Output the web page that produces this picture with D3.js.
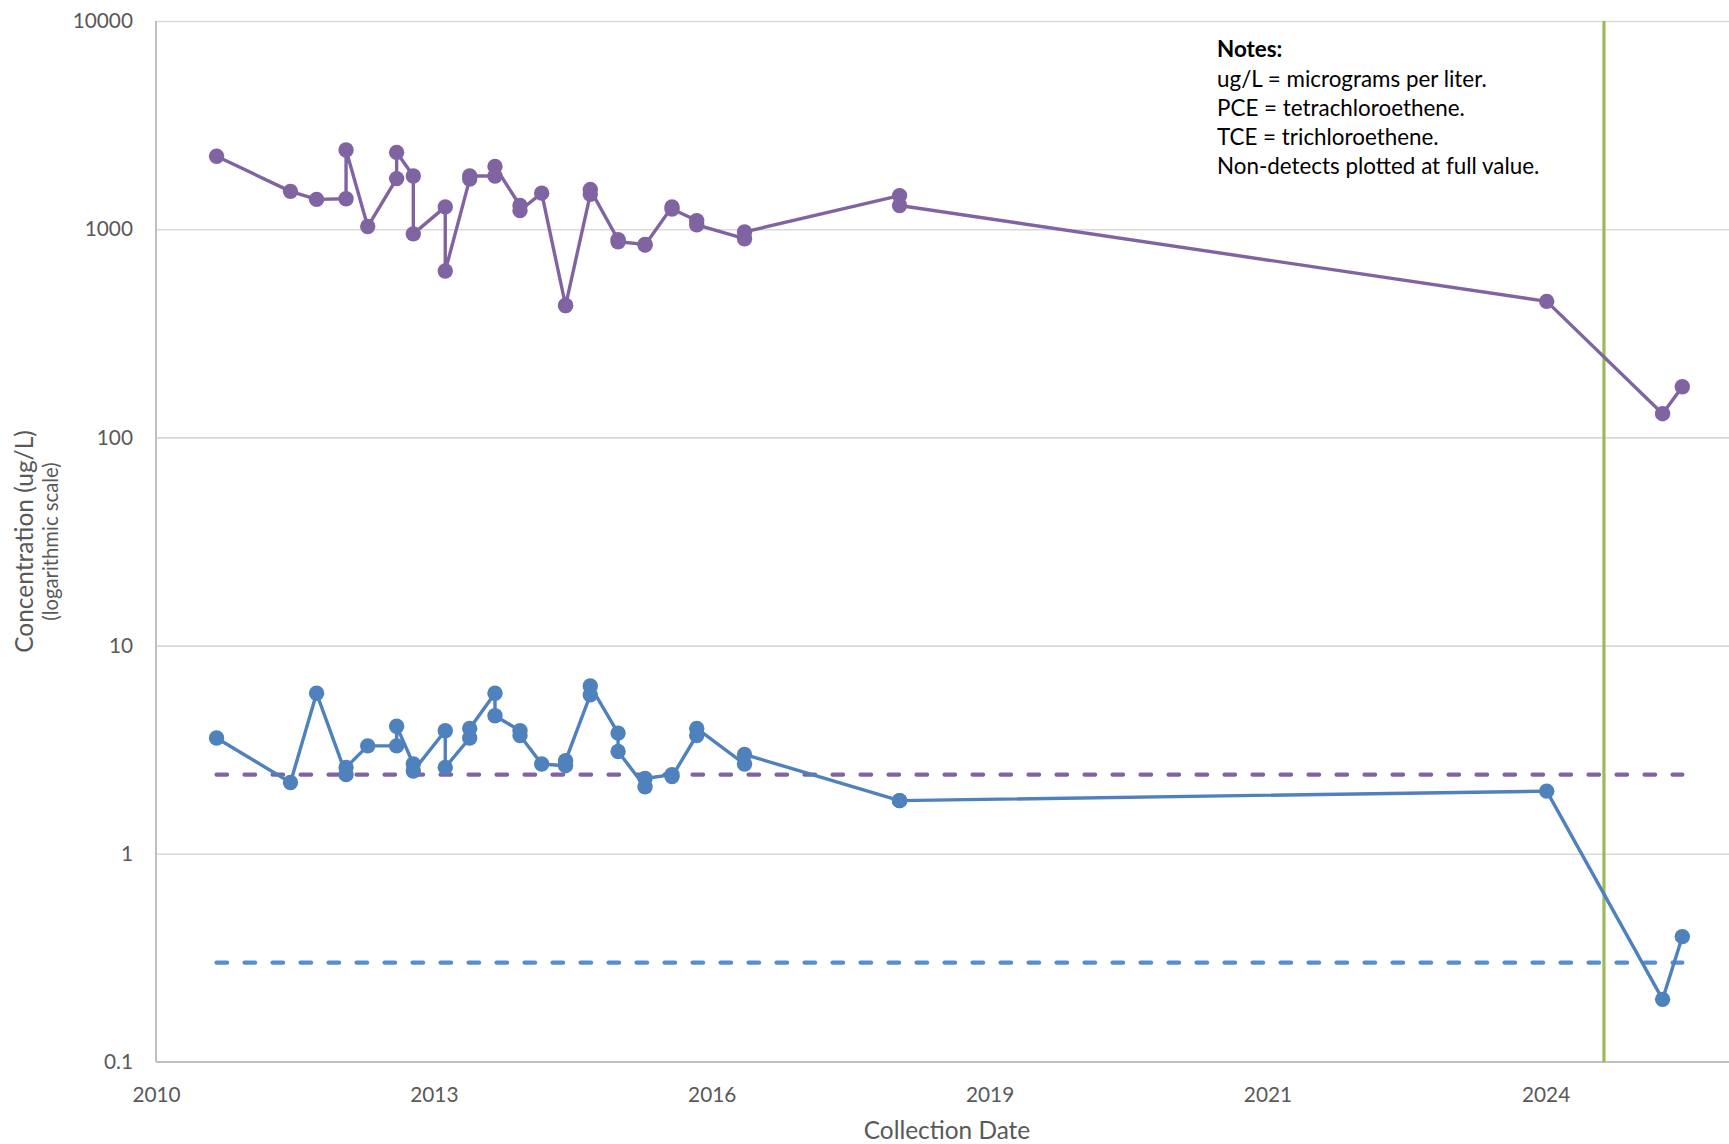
<!DOCTYPE html>
<html>
<head>
<meta charset="utf-8">
<script src="https://cdn.jsdelivr.net/npm/d3@7"></script>
<style>
  html, body { margin: 0; padding: 0; background: #fff; }
  svg { display: block; font-family: Lato, "Open Sans", sans-serif; }
</style>
</head>
<body>
<svg id="chart" width="1729" height="1144"></svg>
<script>
// Sampling events (duplicate samples share a date)
const sampleDates = [
  "2011-06-24", "2012-03-16", "2012-06-18", "2012-10-02", "2012-10-02",
  "2012-12-19", "2013-04-02", "2013-04-02", "2013-06-01", "2013-06-01",
  "2013-09-24", "2013-09-24", "2013-12-21", "2013-12-21", "2014-03-22",
  "2014-03-22", "2014-06-20", "2014-06-20", "2014-09-06", "2014-12-01",
  "2014-12-01", "2015-02-28", "2015-02-28", "2015-06-08", "2015-06-08",
  "2015-09-13", "2015-09-13", "2015-12-19", "2015-12-19", "2016-03-17",
  "2016-03-17", "2016-09-05", "2016-09-05", "2018-03-17", "2018-03-17",
  "2024-08-01", "2025-09-22", "2025-12-02"
];

// PCE concentrations (ug/L)
const pceValues = [
  2240, 1520, 1390, 1400, 2400,
  1030, 1750, 2340, 1800, 950,
  1280, 630, 1740, 1800, 1800,
  2000, 1300, 1230, 1490, 430,
  430, 1470, 1550, 890, 870,
  845, 840, 1280, 1250, 1100,
  1050, 900, 970, 1450, 1300,
  450, 130, 175
];

// TCE concentrations (ug/L)
const tceValues = [
  3.6, 2.2, 5.9, 2.4, 2.6,
  3.3, 3.3, 4.1, 2.7, 2.5,
  3.9, 2.6, 3.6, 4.0, 5.9,
  4.6, 3.9, 3.7, 2.7, 2.65,
  2.8, 5.8, 6.4, 3.8, 3.1,
  2.1, 2.3, 2.4, 2.35, 3.7,
  4.0, 2.7, 3.0, 1.8, 1.8,
  2.0, 0.2, 0.4
];

// Horizontal reference levels (ug/L)
const pceReferenceLevel = 2.4;
const tceReferenceLevel = 0.3;

// Vertical milestone line
const milestoneDate = "2025-02-23";

// Axis ticks
const yTickValues = [0.1, 1, 10, 100, 1000, 10000];
const xTickDates = ["2010-11-18", "2013-08-14", "2016-05-10", "2019-02-04", "2021-10-31", "2024-07-28"];
const xDomainDates = ["2010-11-18", "2026-05-19"];

// Notes block
const notesTitle = "Notes:";
const notesLines = [
  "ug/L = micrograms per liter.",
  "PCE = tetrachloroethene.",
  "TCE = trichloroethene.",
  "Non-detects plotted at full value."
];

const colors = {
  pce: "#8064A2",
  tce: "#4F81BD",
  pceRef: "#8064A2",
  tceRef: "#558ED5",
  milestone: "#9BBB59",
  grid: "#D9D9D9",
  axis: "#BFBFBF",
  label: "#595959"
};

const svg = d3.select("#chart");
const plot = { left: 156, top: 21, right: 1729, bottom: 1062 };
const parse = d3.utcParse("%Y-%m-%d");

const x = d3.scaleUtc()
  .domain(xDomainDates.map(parse))
  .range([plot.left, plot.right]);

const y = d3.scaleLog()
  .domain([0.1, 10000])
  .range([plot.bottom, plot.top]);

const records = sampleDates.map((d, i) => ({
  date: parse(d), pce: pceValues[i], tce: tceValues[i]
}));

// Horizontal gridlines
const grid = svg.append("g")
  .attr("transform", `translate(${plot.left},0)`)
  .call(d3.axisLeft(y)
    .tickValues(yTickValues.filter(v => v > 0.1))
    .tickSize(-(plot.right - plot.left))
    .tickFormat(""));
grid.select(".domain").remove();
grid.selectAll(".tick line").attr("stroke", colors.grid).attr("stroke-width", 1.6);

// Y axis labels
const yAxis = svg.append("g")
  .attr("transform", `translate(${plot.left},0)`)
  .call(d3.axisLeft(y)
    .tickValues(yTickValues)
    .tickSize(0)
    .tickPadding(23)
    .tickFormat(d3.format("~g")));
yAxis.select(".domain").remove();
yAxis.selectAll("text")
  .attr("fill", colors.label)
  .style("font-size", "20.8px")
  .style("font-family", "Lato, sans-serif");

// X axis labels
const xAxis = svg.append("g")
  .attr("transform", `translate(0,${plot.bottom})`)
  .call(d3.axisBottom(x)
    .tickValues(xTickDates.map(parse))
    .tickSize(0)
    .tickPadding(25)
    .tickFormat(d3.utcFormat("%Y")));
xAxis.select(".domain").remove();
xAxis.selectAll("text")
  .attr("fill", colors.label)
  .style("font-size", "20.8px")
  .style("font-family", "Lato, sans-serif");

// Axis lines
svg.append("line")
  .attr("x1", plot.left).attr("x2", plot.left)
  .attr("y1", plot.top).attr("y2", plot.bottom)
  .attr("stroke", colors.axis).attr("stroke-width", 2);
svg.append("line")
  .attr("x1", plot.left).attr("x2", plot.right)
  .attr("y1", plot.bottom).attr("y2", plot.bottom)
  .attr("stroke", colors.axis).attr("stroke-width", 2);

// Reference levels spanning the sampling period
const firstDate = records[0].date;
const lastDate = records[records.length - 1].date;
const refLine = d3.line().x(d => x(d.date)).y(d => y(d.value));
[[pceReferenceLevel, colors.pceRef], [tceReferenceLevel, colors.tceRef]].forEach(([level, color]) => {
  svg.append("path")
    .attr("d", refLine([{ date: firstDate, value: level }, { date: lastDate, value: level }]))
    .attr("fill", "none")
    .attr("stroke", color)
    .attr("stroke-width", 4.3)
    .attr("stroke-linecap", "round")
    .attr("stroke-dasharray", "10.5 17.5");
});

// Milestone line
svg.append("line")
  .attr("x1", x(parse(milestoneDate))).attr("x2", x(parse(milestoneDate)))
  .attr("y1", plot.top).attr("y2", plot.bottom)
  .attr("stroke", colors.milestone).attr("stroke-width", 3.2);

// Concentration series
[["pce", colors.pce], ["tce", colors.tce]].forEach(([key, color]) => {
  const line = d3.line().x(d => x(d.date)).y(d => y(d[key]));
  svg.append("path")
    .datum(records)
    .attr("d", line)
    .attr("fill", "none")
    .attr("stroke", color)
    .attr("stroke-width", 3.4)
    .attr("stroke-linejoin", "round");
  svg.append("g")
    .selectAll("circle")
    .data(records)
    .join("circle")
    .attr("cx", d => x(d.date))
    .attr("cy", d => y(d[key]))
    .attr("r", 7.7)
    .attr("fill", color);
});

// Axis titles
svg.append("text")
  .attr("x", 947).attr("y", 1139)
  .attr("text-anchor", "middle")
  .attr("fill", colors.label)
  .style("font-size", "24.4px")
  .text("Collection Date");

svg.append("text")
  .attr("transform", "translate(32.5,541.5) rotate(-90)")
  .attr("text-anchor", "middle")
  .attr("fill", colors.label)
  .style("font-size", "24.5px")
  .text("Concentration (ug/L)");

svg.append("text")
  .attr("transform", "translate(57.5,541.5) rotate(-90)")
  .attr("text-anchor", "middle")
  .attr("fill", colors.label)
  .style("font-size", "20.3px")
  .text("(logarithmic scale)");

// Notes block
const notes = svg.append("g").attr("transform", "translate(1217,0)");
notes.append("text")
  .attr("x", 0).attr("y", 57.3)
  .attr("fill", "#000")
  .style("font-size", "22.4px")
  .style("font-weight", 700)
  .text(notesTitle);
notes.selectAll("text.note")
  .data(notesLines)
  .join("text")
  .attr("class", "note")
  .attr("x", 0)
  .attr("y", (d, i) => 86.5 + i * 29.2)
  .attr("fill", "#000")
  .style("font-size", "22.4px")
  .text(d => d);
</script>
</body>
</html>
